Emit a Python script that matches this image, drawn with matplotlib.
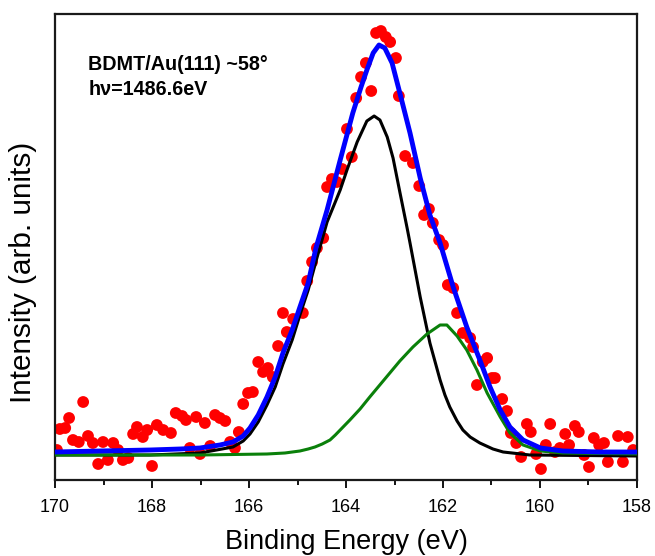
import matplotlib
matplotlib.use("Agg")
import matplotlib.pyplot as plt
from matplotlib.ticker import MultipleLocator

plt.rcParams['font.family'] = ['Liberation Sans', 'DejaVu Sans']

# measured spectrum (binding energy in eV, intensity in arb. units)
be_data = [169.96, 169.90, 169.79, 169.71, 169.63, 169.51, 169.42, 169.32, 169.22, 169.11,
           169.01, 168.91, 168.80, 168.70, 168.60, 168.49, 168.39, 168.31, 168.19, 168.10,
           168.00, 167.90, 167.77, 167.61, 167.51, 167.38, 167.30, 167.22, 167.09, 167.01,
           166.91, 166.80, 166.70, 166.60, 166.49, 166.39, 166.29, 166.21, 166.12, 166.02,
           165.92, 165.81, 165.71, 165.61, 165.51, 165.40, 165.30, 165.22, 165.09, 164.89,
           164.80, 164.70, 164.60, 164.47, 164.39, 164.29, 164.19, 164.08, 163.98, 163.88,
           163.79, 163.69, 163.59, 163.48, 163.38, 163.28, 163.18, 163.09, 162.97, 162.91,
           162.78, 162.62, 162.49, 162.39, 162.29, 162.21, 162.08, 162.00, 161.90, 161.79,
           161.71, 161.59, 161.44, 161.38, 161.30, 161.18, 161.09, 160.99, 160.93, 160.78,
           160.68, 160.60, 160.49, 160.39, 160.27, 160.19, 160.08, 159.98, 159.88, 159.79,
           159.69, 159.59, 159.48, 159.40, 159.28, 159.20, 159.09, 158.99, 158.89, 158.78,
           158.68, 158.60, 158.39, 158.29, 158.19, 158.08]
int_data = [30, 51, 52, 62, 40, 38, 78, 44, 37, 16,
            38, 20, 37, 30, 20, 22, 46, 53, 43, 50,
            14, 55, 50, 47, 67, 64, 60, 32, 63, 26,
            57, 34, 65, 62, 59, 38, 32, 48, 76, 87,
            88, 118, 108, 112, 103, 134, 167, 148, 161, 167,
            199, 218, 232, 242, 293, 301, 298, 311, 351, 323,
            382, 403, 417, 389, 447, 449, 443, 438, 422, 384,
            324, 317, 294, 265, 271, 257, 240, 235, 195, 192,
            167, 147, 142, 133, 95, 118, 122, 102, 102, 81,
            69, 47, 37, 23, 56, 48, 26, 11, 35, 56,
            28, 32, 46, 35, 54, 48, 25, 13, 42, 35,
            37, 18, 44, 18, 43, 30]

# total fit envelope
be_fit = [170.00, 169.07, 168.04, 167.42, 167.01, 166.60, 166.33, 166.12, 165.98, 165.81,
          165.63, 165.46, 165.30, 165.11, 164.95, 164.78, 164.62, 164.39, 164.12, 163.86,
          163.69, 163.57, 163.44, 163.32, 163.20, 163.05, 162.89, 162.68, 162.47, 162.27,
          162.06, 161.79, 161.51, 161.24, 161.03, 160.82, 160.62, 160.35, 159.99, 159.53,
          158.76, 158.00]
int_fit = [28, 29, 30, 31, 32, 35, 38, 44, 52, 65,
           83, 103, 127, 150, 173, 197, 232, 270, 320, 367,
           393, 410, 427, 435, 432, 417, 387, 347, 302, 265,
           237, 193, 153, 120, 93, 70, 53, 40, 32, 29,
           28, 28]

# component 1
be_c1 = [170.00, 168.04, 167.01, 166.33, 166.12, 165.98, 165.81, 165.63, 165.46, 165.30,
         165.11, 164.95, 164.78, 164.60, 164.39, 164.12, 163.98, 163.77, 163.57, 163.42,
         163.30, 163.15, 163.03, 162.89, 162.74, 162.68, 162.47, 162.27, 162.06, 161.96,
         161.86, 161.71, 161.59, 161.44, 161.24, 160.97, 160.76, 160.21, 158.00]
int_c1 = [25, 25, 27, 33, 39, 46, 58, 75, 93, 116,
          140, 165, 190, 222, 258, 290, 310, 338, 359, 364,
          360, 343, 322, 288, 252, 237, 183, 137, 100, 85,
          73, 59, 50, 43, 37, 31, 28, 25, 24]

# component 2
be_c2 = [170.00, 167.01, 165.63, 165.26, 164.95, 164.78, 164.64, 164.49, 164.33, 164.22,
         164.12, 163.92, 163.71, 163.51, 163.20, 162.89, 162.62, 162.33, 162.06, 161.92,
         161.71, 161.51, 161.30, 161.09, 160.82, 160.62, 160.35, 159.99, 159.53, 158.00]
int_c2 = [25, 25, 26, 27, 29, 31, 33, 36, 40, 45,
          50, 60, 71, 83, 101, 119, 133, 146, 155, 155,
          144, 130, 110, 87, 63, 47, 35, 29, 27, 26]

fig = plt.figure(figsize=(6.55, 5.56), dpi=100)
ax = fig.add_axes([0.084, 0.1367, 0.8885, 0.8381])

ax.scatter(be_data, int_data, s=72, color='#ff0000', edgecolors='none', zorder=2)
ax.plot(be_c1, int_c1, color='black', lw=2.2, zorder=3)
ax.plot(be_c2, int_c2, color='#0a800a', lw=2.2, zorder=3)
ax.plot(be_fit, int_fit, color='#0000ff', lw=3.5, zorder=4)

ax.set_xlim(170, 158)
ax.set_ylim(0, 466)
ax.xaxis.set_major_locator(MultipleLocator(2))
ax.xaxis.set_minor_locator(MultipleLocator(1))
ax.tick_params(axis='x', which='major', length=6, width=1.3, labelsize=13, pad=8, direction='out')
ax.tick_params(axis='x', which='minor', length=3.5, width=1.3, direction='out')
ax.set_yticks([])
for sp in ax.spines.values():
    sp.set_linewidth(1.6)
    sp.set_color('#1a1a1a')

ax.set_xlabel('Binding Energy (eV)', fontsize=19.5, labelpad=9)
ax.set_ylabel('Intensity (arb. units)', fontsize=21.4)
ax.yaxis.set_label_coords(-0.031, 0.446)

ax.text(0.057, 0.892, 'BDMT/Au(111) ~58°', transform=ax.transAxes, fontsize=14.2,
        fontweight='bold', va='center', ha='left')
ax.text(0.057, 0.838, 'h\u03bd=1486.6eV', transform=ax.transAxes, fontsize=14.2,
        fontweight='bold', va='center', ha='left')

fig.savefig('out.png', dpi=100)
